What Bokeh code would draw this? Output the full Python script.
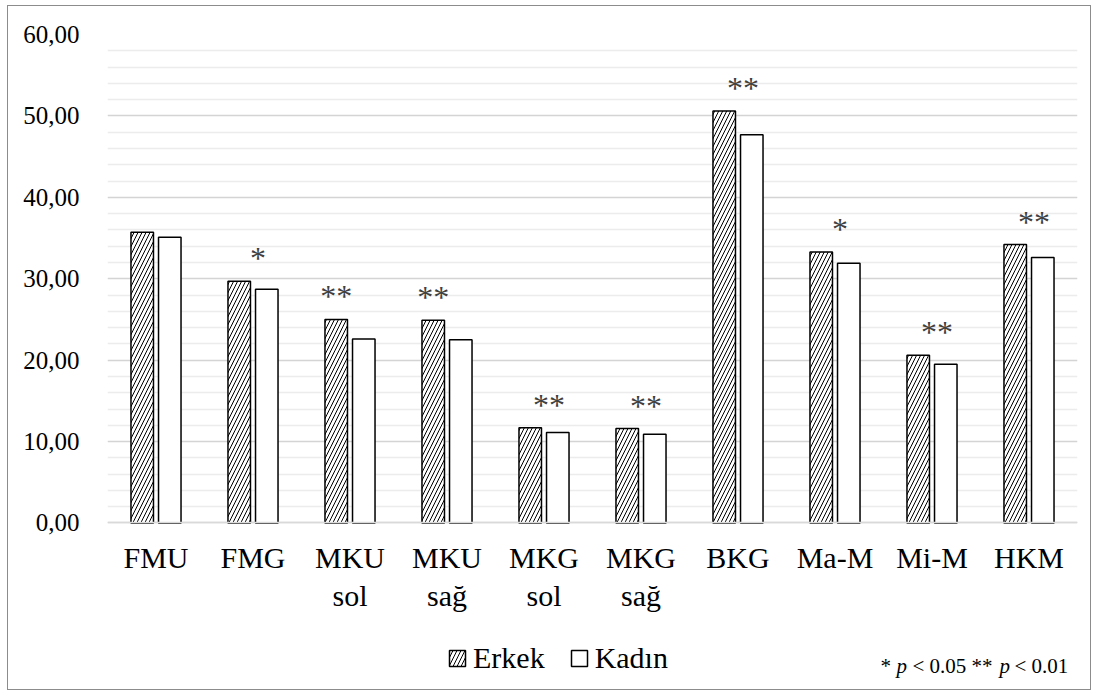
import numpy as np
from bokeh.plotting import figure
from bokeh.models import (ColumnDataSource, Range1d, FixedTicker, Legend,
                          LegendItem, Label)
from bokeh.core.properties import value
from bokeh.embed import file_html
from bokeh.resources import INLINE

# ---------------- data ----------------
categories = ["FMU", "FMG", "MKU\nsol", "MKU\nsağ", "MKG\nsol", "MKG\nsağ",
              "BKG", "Ma-M", "Mi-M", "HKM"]
erkek = [35.7, 29.7, 25.0, 24.9, 11.7, 11.6, 50.6, 33.3, 20.6, 34.2]
kadin = [35.1, 28.7, 22.6, 22.5, 11.1, 10.9, 47.7, 31.9, 19.5, 32.6]
significance = ["", "*", "**", "**", "**", "**", "**", "*", "**", "**"]
series_names = ["Erkek", "Kadın"]
y_ticks = [0, 10, 20, 30, 40, 50, 60]
y_tick_labels = ["0,00", "10,00", "20,00", "30,00", "40,00", "50,00", "60,00"]
y_minor_ticks = [2, 4, 6, 8, 12, 14, 16, 18, 22, 24, 26, 28, 32, 34, 36, 38,
                 42, 44, 46, 48, 52, 54, 56, 58]
note_parts = ["*", "p", "< 0.05 **", "p", "< 0.01"]

# -------------- styling ---------------
FONT = "Liberation Serif"
sig_over = ["group", "group", "erkek", "erkek", "group", "group", "group",
            "group", "group", "group"]

n = len(categories)
xpos = np.arange(1, n + 1)
bar_w = 0.232
off = 0.142

src = ColumnDataSource(dict(
    xe=xpos - off, xk=xpos + off, erkek=erkek, kadin=kadin,
    xs=[(i - off) if a == "erkek" else (i + 0.052) for i, a in zip(xpos, sig_over)],
    sig=significance,
))

# frame: 487 px for 0..60, extended below 0 to leave room for labels/legend
px_per_unit = 487 / 60
y_bottom = -(168 / px_per_unit)

p = figure(width=1084, height=685, output_backend="svg", toolbar_location=None,
           x_range=Range1d(0.5, n + 0.5), y_range=Range1d(y_bottom, 60),
           min_border_left=99, min_border_right=15, min_border_top=28,
           min_border_bottom=0, background_fill_color="white",
           border_fill_color="white")
p.margin = (5, 0, 0, 7)
p.outline_line_color = None
p.styles = {"border": "1px solid #8c8c8c"}

r1 = p.vbar(x="xe", top="erkek", width=bar_w, source=src, fill_color="white",
            hatch_pattern="/", hatch_color="black", hatch_scale=8,
            hatch_weight=1, line_color="black", line_width=1.5)
r2 = p.vbar(x="xk", top="kadin", width=bar_w, source=src, fill_color="white",
            line_color="black", line_width=1.5)

p.text(x="xs", y="erkek", text="sig", source=src, text_align="center",
       text_baseline="alphabetic", y_offset=-23,
       text_font=value(FONT), text_font_size="32px", text_color="#404040")

# axes
xa = p.xaxis[0]
xa.fixed_location = 0
xa.ticker = FixedTicker(ticks=list(xpos))
xa.major_label_overrides = {int(i): c for i, c in zip(xpos, categories)}
xa.major_tick_line_color = None
xa.minor_tick_line_color = None
xa.major_tick_out = 0
xa.major_tick_in = 0
xa.axis_line_color = "#d9d9d9"
xa.axis_line_width = 1.5
xa.major_label_standoff = 18
xa.major_label_text_font = FONT
xa.major_label_text_font_size = "30px"
xa.major_label_text_line_height = 1.15
xa.major_label_text_color = "black"

ya = p.yaxis[0]
ya.ticker = FixedTicker(ticks=y_ticks, minor_ticks=y_minor_ticks)
ya.major_label_overrides = {t: l for t, l in zip(y_ticks, y_tick_labels)}
ya.axis_line_color = None
ya.major_tick_line_color = None
ya.minor_tick_line_color = None
ya.major_tick_out = 0
ya.major_tick_in = 0
ya.major_label_standoff = 24
ya.major_label_text_font = FONT
ya.major_label_text_font_size = "25px"
ya.major_label_text_color = "black"

p.xgrid.grid_line_color = None
p.ygrid.grid_line_color = "#d4d4d4"
p.ygrid.grid_line_width = 1.5
p.ygrid.minor_grid_line_color = "#ececec"
p.ygrid.minor_grid_line_width = 1.5

# legend
legend = Legend(items=[LegendItem(label=series_names[0], renderers=[r1]),
                       LegendItem(label=series_names[1], renderers=[r2])],
                orientation="horizontal", location=(340, 16),
                border_line_color=None, background_fill_alpha=0,
                padding=0, margin=0, spacing=24, label_standoff=6,
                glyph_width=20, glyph_height=20,
                label_text_font=FONT,
                label_text_font_size="30px", label_text_color="black")
try:
    legend.stylesheets = ["* { font-family: 'Liberation Serif', serif !important; }"]
except Exception:
    pass
p.add_layout(legend)

# significance note
note_x = [773, 789, 805, 892, 907]
for part, nx in zip(note_parts, note_x):
    lbl = Label(x=nx, y=26, x_units="screen", y_units="screen", text=part,
                text_baseline="alphabetic",
                text_font_style="italic" if part == "p" else "normal")
    lbl.text_font = FONT
    lbl.text_font_size = "21px"
    lbl.text_color = "black"
    p.add_layout(lbl)

open("out.html", "w").write(file_html(p, INLINE))
